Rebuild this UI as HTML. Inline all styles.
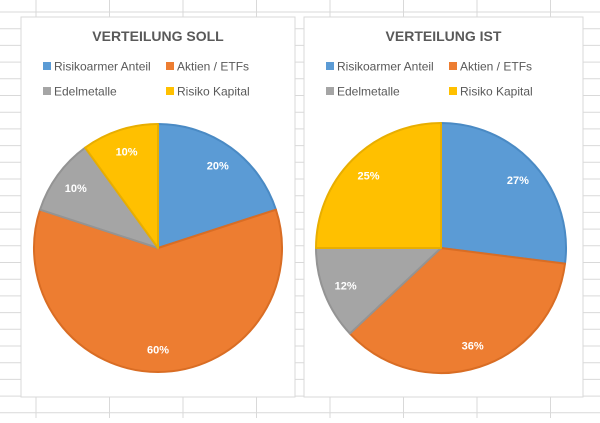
<!DOCTYPE html>
<html><head><meta charset="utf-8"><style>
html,body{margin:0;padding:0;background:#fff}
body{width:600px;height:418px;overflow:hidden;position:relative;font-family:"Liberation Sans",sans-serif}
</style></head><body>
<svg id="s" width="600" height="418" xmlns="http://www.w3.org/2000/svg">
<g id="grid"></g>
<g id="charts"></g>
</svg>
<script>
const NS="http://www.w3.org/2000/svg";
const categories=["Risikoarmer Anteil","Aktien / ETFs","Edelmetalle","Risiko Kapital"];
const sollValues=[20,60,10,10];
const istValues=[27,36,12,25];
const titles=["VERTEILUNG SOLL","VERTEILUNG IST"];
const colors=["#5B9BD5","#ED7D31","#A5A5A5","#FFC000"];
const strokes=["#4a8ac4","#d96d24","#949494","#e8ae00"];
function mk(t,a,p){const e=document.createElementNS(NS,t);for(const k in a)e.setAttribute(k,a[k]);(p||document.getElementById('s')).appendChild(e);return e;}
const grid=document.getElementById('grid');
for(let x=36;x<600;x+=73.5){const l=mk('line',{x1:x,y1:0,x2:x,y2:418,stroke:'#d9d9d9','stroke-width':1},grid);

}
for(let y=12;y<418;y+=16.7){const l=mk('line',{x1:0,y1:y,x2:600,y2:y,stroke:'#d9d9d9','stroke-width':1},grid);

}
const charts=document.getElementById('charts');
function chart(x0,w,title,values,cx,cy,r,name){
  const g=mk('g',{},charts);
  
  
  const bg=mk('rect',{x:x0,y:17,width:w,height:380,fill:'#fff',stroke:'#d9d9d9'},g);
  
  
  const t=mk('text',{x:x0+w/2,y:41,'text-anchor':'middle','font-size':'14','font-weight':'bold',fill:'#595959'},g);
  t.textContent=title;
  
  
  const lx=[x0+22,x0+145],ly=[66,91];
  categories.forEach((c,i)=>{
    const lg=mk('g',{},g);
    
    
    const px=lx[i%2],py=ly[Math.floor(i/2)];
    mk('rect',{x:px,y:py-4,width:8,height:8,fill:colors[i]},lg);
    const tt=mk('text',{x:px+11,y:py+4.5,'font-size':'12',fill:'#595959'},lg);
    tt.textContent=c;
  });
  const total=values.reduce((a,b)=>a+b,0);
  let a=0;
  values.forEach((v,i)=>{
    const a1=a,a2=a+v/total*2*Math.PI;a=a2;
    const p=(ang,rr)=>[cx+rr*Math.sin(ang),cy-rr*Math.cos(ang)];
    const [x1,y1]=p(a1,r),[x2,y2]=p(a2,r);
    const large=(a2-a1)>Math.PI?1:0;
    const sl=mk('path',{d:`M${cx},${cy}L${x1},${y1}A${r},${r} 0 ${large} 1 ${x2},${y2}Z`,fill:colors[i],stroke:strokes[i],'stroke-width':2,'stroke-linejoin':'round'},g);
    
    
    const m=(a1+a2)/2;const [tx,ty]=p(m,r*0.82);
    const lb=mk('text',{x:tx,y:ty+4,'text-anchor':'middle','font-size':'11','font-weight':'bold',fill:'#fff'},g);
    lb.textContent=Math.round(v/total*100)+'%';
    
    
  });
}
chart(21,274,titles[0],sollValues,158,248,124,'chart-soll');
chart(304,279,titles[1],istValues,441,248,125,'chart-ist');
</script>
</body></html>
